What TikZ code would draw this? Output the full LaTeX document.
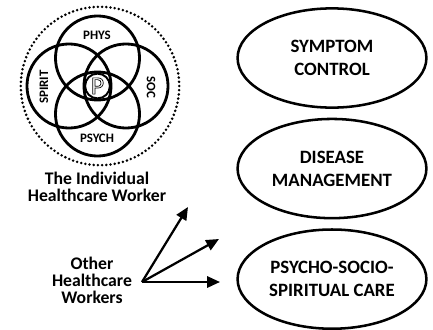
\documentclass[tikz,border=0pt]{standalone}
\usepackage{fontspec}
\setmainfont{Carlito}
\usetikzlibrary{arrows.meta, positioning, shapes.geometric}

\begin{document}
\begin{tikzpicture}[
  x=0.025cm, y=-0.025cm,
  font=\bfseries,
  ring/.style={draw, line width=2pt},
  dotring/.style={draw, line width=2pt, line cap=round, dash pattern=on 0pt off 3pt},
  tag/.style={inner sep=0pt, font=\fontsize{9.2}{10}\selectfont\bfseries},
  goal/.style={ellipse, draw, line width=1.8pt, minimum width=4.72cm, minimum height=2.48cm,
    align=center, inner sep=0pt, font=\fontsize{13.4}{16.3}\selectfont\bfseries},
  caption/.style={align=center, inner sep=0pt, font=\fontsize{12.6}{12}\selectfont\bfseries},
  arr/.style={-{Triangle[length=0.32cm, width=0.28cm]}, line width=1.6pt}
]
\useasboundingbox (0,0) rectangle (433,329);

% the individual worker: four overlapping domains in a dotted boundary
\coordinate (hub) at (97.5,86);
\draw[dotring] (100,86) circle (1.98cm);
\draw[ring] (97.5,58) circle (1.05cm);
\draw[ring] (69,86) circle (1.05cm);
\draw[ring] (126,86) circle (1.05cm);
\draw[ring] (97.5,114) circle (1.05cm);
\node[circle, draw, line width=1.4pt, minimum size=0.62cm, inner sep=0pt,
  font=\fontsize{18}{18}\selectfont] (person) at (hub)
  {\special{pdf:literal direct 1 Tr 0.5 w}P\special{pdf:literal direct 0 Tr}};
\node[tag] (phys) at (97,35) {PHYS};
\node[tag, rotate=90] (spirit) at (44,87) {SPIRIT};
\node[tag, rotate=-90] (soc) at (151,87) {SOC};
\node[tag] (psych) at (97,138) {PSYCH};
\node[caption] (worker) at (97,187) {The Individual\\Healthcare Worker};

% the team reaching out
\node[caption] (others) at (92,280) {Other\\Healthcare\\Workers};
\coordinate (fan) at (142,282);
\coordinate (tipA) at (188,207);
\coordinate (tipB) at (219,239);
\coordinate (tipC) at (220,282);
\draw[arr] (fan) -- (tipA);
\draw[arr] (fan) -- (tipB);
\draw[arr] (fan) -- (tipC);

% goals of care
\node[goal] (symptom) at (332,58) {SYMPTOM\\CONTROL};
\node[goal, below=0.22cm of symptom] (disease) {DISEASE\\MANAGEMENT};
\node[goal, below=0.22cm of disease] (care) {PSYCHO-SOCIO-\\SPIRITUAL CARE};
\end{tikzpicture}
\end{document}
